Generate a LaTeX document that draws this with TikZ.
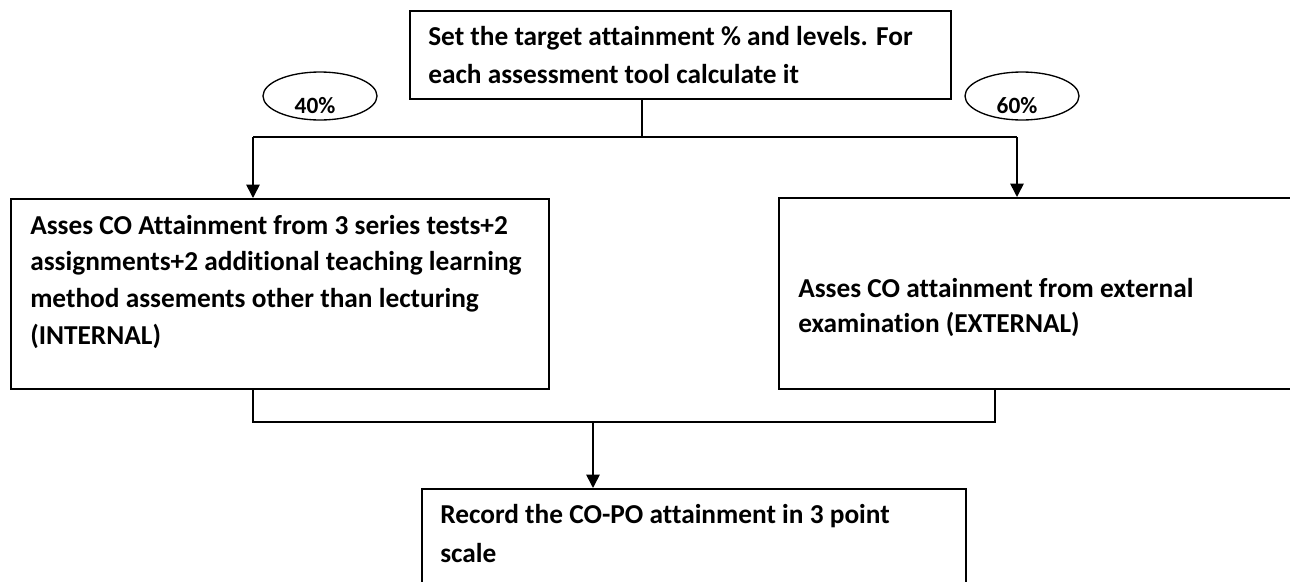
\documentclass[tikz,border=0pt]{standalone}
\usepackage{fontspec}
\setmainfont{Carlito}[Ligatures=NoCommon]
\usetikzlibrary{arrows.meta,shapes.geometric}
\begin{document}
\begin{tikzpicture}[x=0.75pt,y=-0.75pt,
  box/.style={draw, line width=1.3pt, inner sep=0pt, anchor=north west},
  txt/.style={align=left, inner sep=0pt, anchor=base west},
  pct/.style={font=\bfseries\fontsize{17.5}{20}\selectfont, inner sep=0pt, anchor=base},
  oval/.style={draw, ellipse, line width=1pt, inner sep=0pt, minimum width=85.5pt, minimum height=36pt},
  conn/.style={line width=1.2pt},
  arr/.style={conn, -{Triangle[width=10pt,length=10pt]}}]
\useasboundingbox (0,0) rectangle (1290,582);
\clip (0,0) rectangle (1290,582);
% boxes
\node[box, minimum width=405.75pt, minimum height=66pt] (top) at (409,10) {};
\node[box, minimum width=403.5pt, minimum height=142.5pt] (left) at (10,198) {};
\node[box, minimum width=397.5pt, minimum height=143.25pt] (right) at (778,197) {};
\node[box, minimum width=408pt, minimum height=90pt] (bottom) at (421,488) {};
% texts (anchored at the baseline of their last line)
\node[txt, font=\bfseries\fontsize{20.5}{28.5}\selectfont] (toptxt) at (428,83)
  {Set the target attainment \% and levels. For\\each assessment tool calculate it};
\node[txt, font=\bfseries\fontsize{20.5}{27.4}\selectfont] (lefttxt) at (30,344)
  {Asses CO Attainment from 3 series tests+2\\assignments+2 additional teaching learning\\method assements other than lecturing\\(INTERNAL)};
\node[txt, font=\bfseries\fontsize{20.5}{26.25}\selectfont] (righttxt) at (798,332)
  {Asses CO attainment from external\\examination (EXTERNAL)};
\node[txt, font=\bfseries\fontsize{20.5}{29.25}\selectfont] (bottomtxt) at (440,562)
  {Record the CO-PO attainment in 3 point\\scale};
% ellipses
\node[oval] (e40) at (320,96) {};
\node[pct] (t40) at (315,113) {40\%};
\node[oval] (e60) at (1022,96) {};
\node[pct] (t60) at (1017,113) {60\%};
% junctions
\coordinate (jt) at (642,137);
\coordinate (jl) at (253,137);
\coordinate (jr) at (1017,137);
\coordinate (bl) at (253,422);
\coordinate (br) at (995,422);
\coordinate (bm) at (593,422);
% connectors
\draw[conn] (top.south -| jt) -- (jt);
\draw[conn] (jl) -- (jr);
\draw[arr] (jl) -- (left.north -| jl);
\draw[arr] (jr) -- (right.north -| jr);
\draw[conn] (left.south -| bl) -- (bl) -- (br) -- (right.south -| br);
\draw[arr] (bm) -- (bottom.north -| bm);
\end{tikzpicture}
\end{document}
